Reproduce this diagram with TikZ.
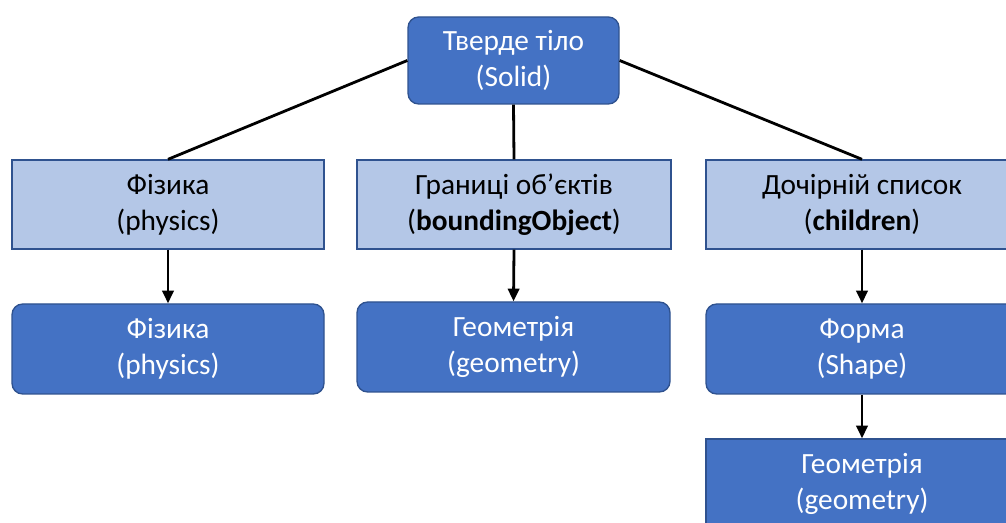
\documentclass[tikz,border=0pt]{standalone}
\usepackage{fontspec}
\setmainfont{Carlito}
\usetikzlibrary{arrows.meta}
\definecolor{dblue}{HTML}{4472C4}
\definecolor{lblue}{HTML}{B4C7E7}
\definecolor{bord}{HTML}{2F528F}
\tikzset{
  px/.style={x=0.75pt,y=-0.75pt},
  base/.style={draw=bord,line width=1pt,inner sep=0pt,align=center,
    font=\fontsize{22}{27}\selectfont},
  darkr/.style={base,fill=dblue,text=white,rounded corners=8pt},
  darks/.style={base,fill=dblue,text=white},
  light/.style={base,fill=lblue,text=black},
  sz/.style 2 args={minimum width=#1*0.75pt,minimum height=#2*0.75pt},
  conn/.style={line width=2.1pt,black},
  arr/.style={conn,-{Triangle[length=9.5pt,width=8.5pt]}}
}
\begin{document}
\begin{tikzpicture}[px]
\useasboundingbox (0,0) rectangle (1006,523);
\node[darkr,sz={211}{87}] (top) at (513.5,60.5) {Тверде тіло\\(Solid)};
\node[light,sz={312}{89}] (ml) at (168,204.5) {Фізика\\(physics)};
\node[light,sz={314}{89}] (mm) at (514,204.5) {Границі об’єктів\\(\textbf{boundingObject})};
\node[light,sz={312}{89}] (mr) at (862,204.5) {Дочірній список\\(\textbf{children})};
\node[darkr,sz={312}{90}] (bl) at (168,349) {Фізика\\(physics)};
\node[darkr,sz={313}{90}] (bm) at (513.5,347) {Геометрія\\(geometry)};
\node[darkr,sz={312}{90}] (br) at (862,349) {Форма\\(Shape)};
\node[darks,sz={312}{90}] (last) at (862,484) {Геометрія\\(geometry)};
\draw[conn] (top.west) -- (ml.north);
\draw[conn] (top.south) -- (mm.north);
\draw[conn] (top.east) -- (mr.north);
\draw[arr] (ml.south) -- (bl.north);
\draw[arr] (mm.south) -- (bm.north);
\draw[arr] (mr.south) -- (br.north);
\draw[arr] (br.south) -- (last.north);
\end{tikzpicture}
\end{document}
